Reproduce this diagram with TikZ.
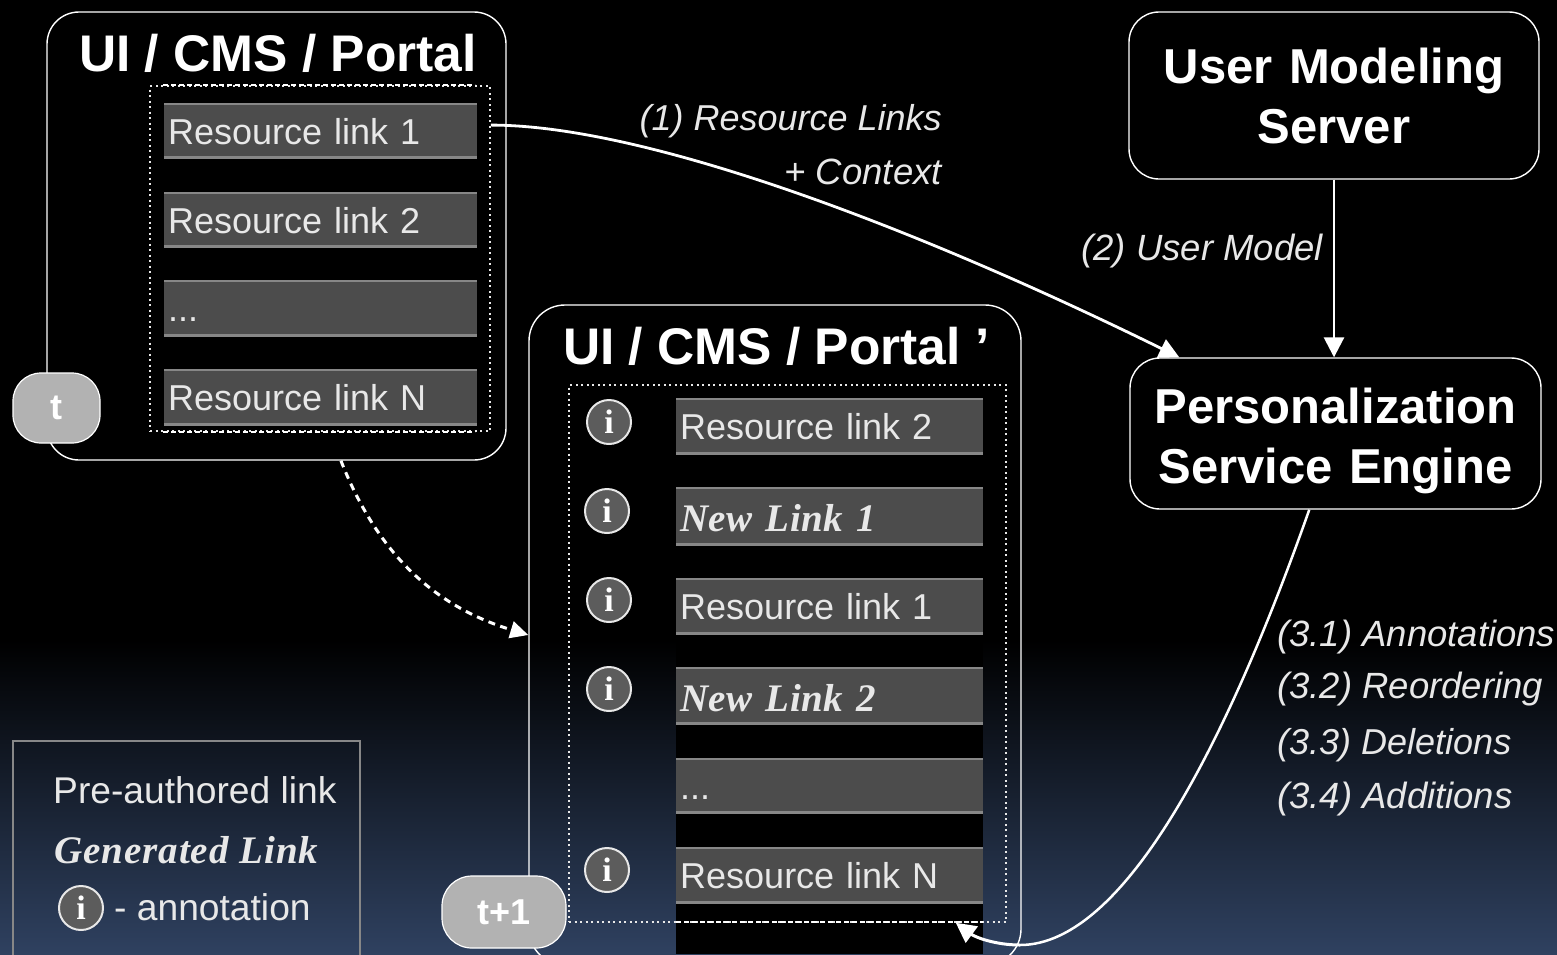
\documentclass[tikz,border=0pt]{standalone}
\usepackage{fontspec}
\setmainfont{Liberation Sans}
\newfontfamily\serifbi[BoldItalicFont={Liberation Serif Bold Italic}]{Liberation Serif}
\usetikzlibrary{arrows.meta}
\definecolor{bgbottom}{RGB}{47,65,96}
\definecolor{linkfill}{RGB}{76,76,76}
\definecolor{linkedge}{RGB}{135,135,135}
\definecolor{soft}{RGB}{232,232,232}
\definecolor{tfill}{RGB}{178,178,178}
\definecolor{infofill}{RGB}{92,92,92}
\newcommand{\fs}[1]{\fontsize{#1}{#1}\selectfont}
\tikzset{
  x=1pt,y=-1pt,
  container/.style={draw=white,line width=1.4pt,rounded corners=32pt,inner sep=0pt},
  engine/.style={draw=white,line width=1.4pt,rounded corners=30pt,inner sep=0pt,fill=black,
    text=white,font=\bfseries\fs{49},align=center,text width=400pt},
  title/.style={anchor=base west,inner sep=0pt,text=white,font=\bfseries\fs{51.5}},
  dotbox/.style={draw=soft,line width=1.5pt,dash pattern=on 2pt off 3.5pt,inner sep=0pt},
  dotedge/.style={draw=white,line width=2.4pt,dash pattern=on 5pt off 3pt},
  linkbox/.style={fill=linkfill,inner sep=0pt,inner xsep=4pt,anchor=north west,text=soft,
    font=\fs{36},align=left,text height=27pt,text depth=0pt,
    path picture={
      \draw[linkedge,line width=4pt] (path picture bounding box.north west)--(path picture bounding box.north east);
      \draw[linkedge,line width=4pt] (path picture bounding box.south west)--(path picture bounding box.south east);}},
  link1/.style={linkbox,minimum width=313pt,text width=305pt},
  link2/.style={linkbox,minimum width=307pt,text width=299pt},
  newlink/.style={text height=31pt,font=\serifbi\bfseries\itshape\fs{39}\addfontfeature{LetterSpace=1.3}},
  info/.style={circle,draw=soft,fill=infofill,line width=2pt,minimum size=44pt,inner sep=0pt,
    text=white,font=\serifbi\bfseries\fs{34}},
  stamp/.style={draw=white,line width=1.2pt,fill=tfill,inner sep=0pt,text=white,font=\bfseries\fs{36}},
  lab/.style={anchor=base east,inner sep=0pt,text=soft,font=\itshape\fs{36.5}},
  labw/.style={anchor=base west,inner sep=0pt,text=soft,font=\itshape\fs{36.5}},
  legtext/.style={anchor=base west,inner sep=0pt,text=soft,font=\fs{37.2}},
  wire/.style={draw=white,line width=2.8pt},
  tip/.style={-{Triangle[length=20pt,width=20pt]}},
}
\begin{document}
\begin{tikzpicture}
\useasboundingbox (0,0) rectangle (1557,954);
\clip (0,0) rectangle (1557,954);
% background
\fill[black] (0,0) rectangle (1557,642);
\shade[top color=black,bottom color=bgbottom,shading angle=0] (0,640) rectangle (1557,954);
\fill[black] (676,640) rectangle (983,954);

% first page
\node[container,minimum width=459pt,minimum height=448pt] (box1) at (276.5,236) {};
\node[title] (title1) at (79,71) {UI / CMS / Portal};
\node[dotbox,minimum width=340pt,minimum height=345pt] (dots1) at (320,258.5) {};
\draw[dotedge] (dots1.south west)++(14,0) -- ++(312,0);
\draw[dotedge,line width=1.8pt] (dots1.north west)++(14,0) -- ++(312,0);
\node[link1,minimum height=55pt] (a1) at (164,103) {Resource link 1};
\node[link1,minimum height=55pt] (a2) at (164,192) {Resource link 2};
\node[link1,minimum height=56pt] (a3) at (164,280) {...};
\node[link1,minimum height=56pt] (a4) at (164,369) {Resource link N};
\node[stamp,rounded corners=28pt,minimum width=87pt,minimum height=70pt] (t0) at (56.5,408) {\raisebox{-2pt}{t}};

% second page
\node[container,rounded corners=36pt,minimum width=492pt,minimum height=660pt] (box2) at (775,635) {};
\node[title] (title2) at (563,364) {UI / CMS / Portal ’};
\node[dotbox,minimum width=437pt,minimum height=537pt] (dots2) at (787.5,653.5) {};
\draw[dotedge] (676,922) -- (983,922);
\node[link2,minimum height=56pt] (b1) at (676,398) {Resource link 2};
\node[link2,minimum height=58pt,newlink] (b2) at (676,487) {New Link 1};
\node[link2,minimum height=56pt] (b3) at (676,578) {Resource link 1};
\node[link2,minimum height=57pt,newlink] (b4) at (676,667) {New Link 2};
\node[link2,minimum height=55pt] (b5) at (676,758) {...};
\node[link2,minimum height=56pt] (b6) at (676,847) {Resource link N};
\node[info] (i1) at (609,422) {i};
\node[info] (i2) at (607,511) {i};
\node[info] (i3) at (609,600) {i};
\node[info] (i4) at (609,689) {i};
\node[info] (i5) at (607,870) {i};
\node[stamp,rounded corners=30pt,minimum width=124pt,minimum height=72pt] (t1) at (504,912) {t+1};

% servers
\node[engine,minimum width=410pt,minimum height=167pt] (ums) at (1334,95.5) {User Modeling\\[11pt]Server};
\node[engine,minimum width=411pt,minimum height=151pt] (pse) at (1335.5,433.5) {};
\node[engine,draw=none,fill=none] (psetext) at (1335.5,441) {Personalization\\[11pt]Service Engine};

% connectors
\coordinate (mid3) at (1020,945);
\draw[wire,tip] (dots1.38) .. controls (640,125) and (900,220) .. (pse.154.4);
\draw[wire,tip] (ums.south) -- (ums.south |- pse.north);
\draw[wire,line width=2.5pt] (pse.-109.1) .. controls (1228,740) and (1125,945) .. (mid3);
\draw[wire,tip,line width=3pt] (mid3) .. controls (995,945) and (975,937) .. (dots2.-58.4);
\draw[wire,line width=3pt,dash pattern=on 7pt off 5.5pt,-{Triangle[length=18pt,width=17pt]}] (box1.-74.2) .. controls (380,560) and (440,608) .. (box2.west);

% labels
\node[lab,font=\itshape\fs{36}] (l1) at (942,130) {(1) Resource Links};
\node[lab] (l2) at (942,184) {+ Context};
\node[lab] (l3) at (1323,260) {(2) User Model};
\node[labw] (l4) at (1277,646) {(3.1) Annotations};
\node[labw] (l5) at (1277,698) {(3.2) Reordering};
\node[labw,font=\itshape\fs{36}] (l6) at (1277,754) {(3.3) Deletions};
\node[labw] (l7) at (1277,808) {(3.4) Additions};

% legend
\node[draw=linkedge,line width=2pt,minimum width=347pt,minimum height=240pt,inner sep=0pt] (legend) at (186.5,861) {};
\node[legtext] (g1) at (53,803) {Pre-authored link};
\node[legtext,font=\serifbi\bfseries\itshape\fs{39}\addfontfeature{LetterSpace=2.5}] (g2) at (54,863) {Generated Link};
\node[info,minimum size=44pt] (g3) at (81,908) {i};
\node[legtext] (g4) at (114,920) {- annotation};
\end{tikzpicture}
\end{document}
